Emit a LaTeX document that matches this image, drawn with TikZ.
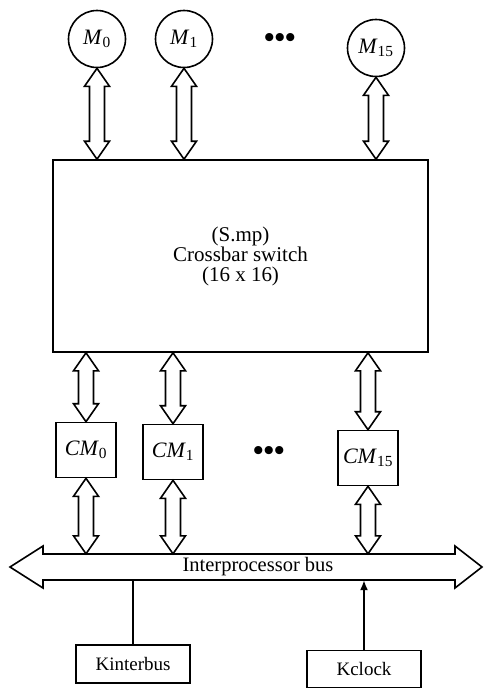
\documentclass[tikz,border=0pt]{standalone}
\usepackage{fontspec}
\setmainfont{Liberation Serif}
\usetikzlibrary{calc,arrows.meta}
\tikzset{
  lw/.style={line width=1.6pt},
  mem/.style={circle,draw,lw,minimum size=57pt,inner sep=0pt,font=\fontsize{22}{22}\selectfont},
  cmbox/.style={rectangle,draw,lw,minimum width=60pt,minimum height=55pt,inner sep=0pt,font=\fontsize{22}{22}\selectfont},
  kbox/.style={rectangle,draw,lw,minimum width=114pt,minimum height=38pt,inner sep=0pt,font=\fontsize{19}{20}\selectfont},
  xbarbox/.style={rectangle,draw,lw,minimum width=375pt,minimum height=192pt,inner sep=0pt,align=center,font=\fontsize{21}{20}\selectfont},
  hollow/.style={lw,fill=white,line join=miter},
  dots/.style={font=\fontsize{30}{30}\selectfont\bfseries},
  lbl/.style={font=\fontsize{20.5}{20}\selectfont},
}
\newcommand\vdarrow[2]{%
  \draw[hollow] let \p1=#1, \p2=#2 in
    (\x1,\y1) -- ++(12.5pt,-18pt) -- ++(-5pt,0pt) -- (\x1+7.5pt,\y2+18pt) -- ++(5pt,0pt)
    -- (\x1,\y2) -- ++(-12.5pt,18pt) -- ++(5pt,0pt) -- (\x1-7.5pt,\y1-18pt) -- ++(-5pt,0pt) -- cycle;}
\begin{document}
\begin{tikzpicture}[x=1pt,y=-1pt]
\useasboundingbox (0,0) rectangle (487,689);
% memories
\node[mem] (m0) at (97,39) {\textit{M}\textsubscript{0}};
\node[mem] (m1) at (184,39) {\textit{M}\textsubscript{1}};
\node[mem] (m15) at (376,48) {\textit{M}\textsubscript{15}};
\node[dots] (d1) at (280,41) {\textbullet\textbullet\textbullet};
% crossbar
\node[xbarbox] (xbar) at (240.5,256) {(S.mp)\\Crossbar switch\\(16 x 16)};
% CM boxes
\node[cmbox] (cm0) at (86,450) {\textit{CM}\textsubscript{0}};
\node[cmbox] (cm1) at (173,452) {\textit{CM}\textsubscript{1}};
\node[cmbox] (cm15) at (368,458) {\textit{CM}\textsubscript{15}};
\node[dots] (d2) at (269,453) {\textbullet\textbullet\textbullet};
% bus
\draw[hollow] (10,567) -- (43,546) -- (43,554) -- (455,554) -- (455,546) -- (482,567)
  -- (455,588) -- (455,580) -- (43,580) -- (43,588) -- cycle;
\node[minimum width=412pt,minimum height=26pt,inner sep=0pt] (bus) at (249,567) {};
\node[lbl] (buslbl) at (258,567) {Interprocessor bus};
% bottom boxes
\node[kbox] (kinter) at (133,664) {Kinterbus};
\node[kbox,minimum height=37pt] (kclock) at (364,669) {Kclock};
% arrows memory <-> crossbar
\vdarrow{(m0.south)}{(xbar.north -| m0.south)}
\vdarrow{(m1.south)}{(xbar.north -| m1.south)}
\vdarrow{(m15.south)}{(xbar.north -| m15.south)}
% crossbar <-> CM
\vdarrow{(xbar.south -| cm0.north)}{(cm0.north)}
\vdarrow{(xbar.south -| cm1.north)}{(cm1.north)}
\vdarrow{(xbar.south -| cm15.north)}{(cm15.north)}
% CM <-> bus
\vdarrow{(cm0.south)}{(bus.north -| cm0.south)}
\vdarrow{(cm1.south)}{(bus.north -| cm1.south)}
\vdarrow{(cm15.south)}{(bus.north -| cm15.south)}
% bus connections
\draw[lw] (bus.south -| kinter.north) -- (kinter.north);
\draw[lw,-{Latex[length=10pt,width=8pt]}] (kclock.north) -- (bus.south -| kclock.north);
\end{tikzpicture}
\end{document}
